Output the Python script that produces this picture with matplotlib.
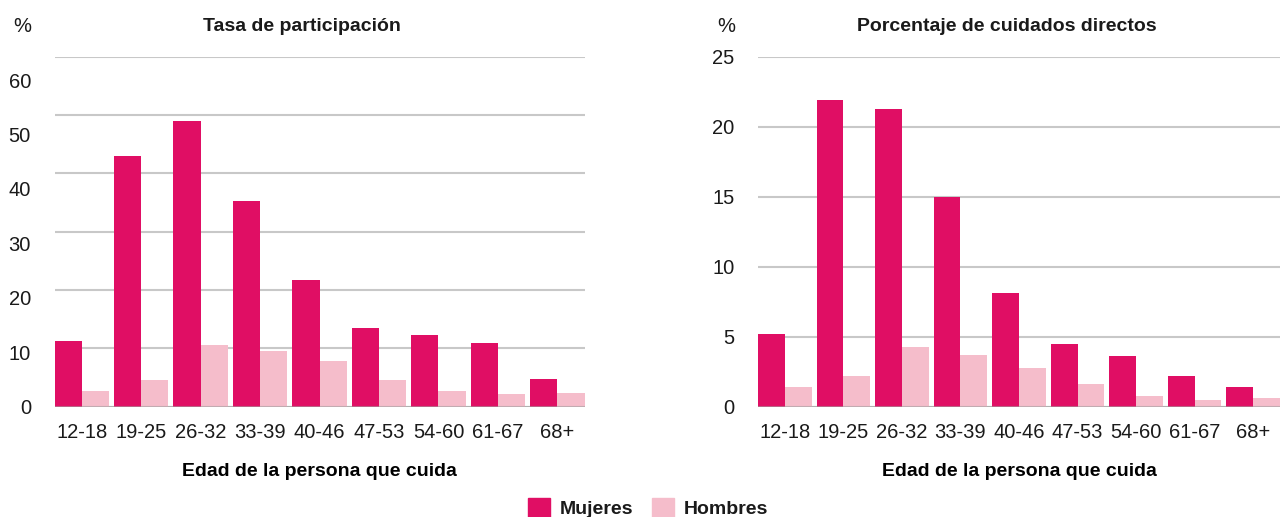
import matplotlib.pyplot as plt
import numpy as np
from matplotlib.patches import Patch

plt.rcParams['font.family'] = ['Liberation Sans', 'DejaVu Sans']
plt.rcParams['text.color'] = '#1a1a1a'
plt.rcParams['xtick.color'] = '#1a1a1a'
plt.rcParams['ytick.color'] = '#1a1a1a'

# Data
edades = ["12-18", "19-25", "26-32", "33-39", "40-46", "47-53", "54-60", "61-67", "68+"]
tasa_mujeres = [11.3, 43.0, 48.9, 35.3, 21.8, 13.5, 12.3, 11.0, 4.8]
tasa_hombres = [2.7, 4.5, 10.6, 9.6, 7.9, 4.5, 2.7, 2.2, 2.4]
cuid_mujeres = [5.2, 21.9, 21.3, 15.0, 8.1, 4.5, 3.6, 2.2, 1.4]
cuid_hombres = [1.4, 2.2, 4.3, 3.7, 2.8, 1.6, 0.8, 0.5, 0.6]
tasa_ticks = [0, 10, 20, 30, 40, 50, 60]
cuid_ticks = [0, 5, 10, 15, 20, 25]

C_MUJ = '#e00e64'
C_HOM = '#f5bdcb'
GRID = '#c8c8c8'
W = 0.458

fig = plt.figure(figsize=(12.8, 5.17), dpi=100)
ax1 = fig.add_axes([54.6 / 1280, 1 - 406.7 / 517, 530 / 1280, 350 / 517])
ax2 = fig.add_axes([758 / 1280, 1 - 406.7 / 517, 522 / 1280, 350 / 517])


def draw(ax, muj, hom, ticks, title, title_x, pct_x):
    x = np.arange(len(edades))
    ax.bar(x - W / 2, muj, W, color=C_MUJ, zorder=2)
    ax.bar(x + W / 2, hom, W, color=C_HOM, zorder=2)
    ax.axhline(0, color='#a0a0a0', lw=1.5, alpha=0.6, zorder=3)
    ax.set_xlim(-W, len(edades) - 1 + W)
    ax.set_ylim(ticks[0], ticks[-1])
    ax.set_yticks(ticks)
    ax.yaxis.grid(True, color=GRID, lw=1.5, zorder=0)
    ax.set_axisbelow(True)
    for s in ax.spines.values():
        s.set_visible(False)
    ax.set_xticks(x, edades)
    ax.tick_params(axis='x', length=0, labelsize=14.5, pad=12)
    ax.tick_params(axis='y', length=0, labelsize=14.5, pad=17)
    ax.set_xlabel('Edad de la persona que cuida', fontsize=14, fontweight='bold', labelpad=15)
    fig.text(title_x / 1280, 1 - 27 / 517, title, fontsize=14, fontweight='bold',
             ha='center', va='center')
    fig.text(pct_x / 1280, 1 - 27 / 517, '%', fontsize=14.5, ha='center', va='center')


draw(ax1, tasa_mujeres, tasa_hombres, tasa_ticks, 'Tasa de participación', 302, 22.6)
draw(ax2, cuid_mujeres, cuid_hombres, cuid_ticks, 'Porcentaje de cuidados directos', 1007, 726)

# left panel: labels sit slightly compressed relative to the gridlines
ax1.yaxis.remove_overlapping_locs = False
ax1.set_yticklabels([])
ax1.set_yticks([t * 0.933 for t in tasa_ticks], [str(t) for t in tasa_ticks], minor=True)
ax1.tick_params(axis='y', which='minor', length=0, labelsize=14.5, pad=17)

handles = [Patch(color=C_MUJ, label='Mujeres'), Patch(color=C_HOM, label='Hombres')]
fig.legend(handles=handles, loc='center', bbox_to_anchor=(648 / 1280, 1 - 508 / 517), ncol=2,
           frameon=False, handlelength=1.1, handleheight=1.1, handletextpad=0.5,
           columnspacing=1.0, prop={'size': 14, 'weight': 'bold'})

fig.savefig('out.png', dpi=100)
